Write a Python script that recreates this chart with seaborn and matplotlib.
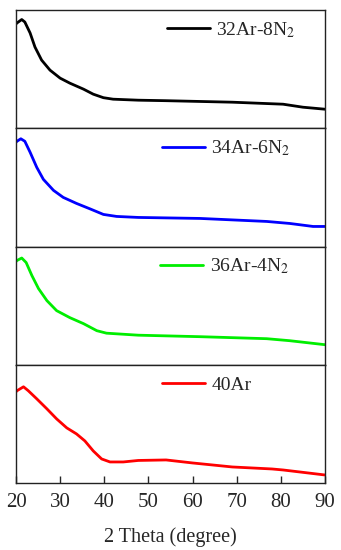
import matplotlib
matplotlib.use("Agg")
import matplotlib.pyplot as plt
import seaborn as sns
import pandas as pd

# XRD patterns (relative intensity, arbitrary units)
labels = ["32Ar-8N$_2$", "34Ar-6N$_2$", "36Ar-4N$_2$", "40Ar"]
colors = ["black", "blue", "#00ee00", "red"]
legend_x = [0.488, 0.472, 0.466, 0.472]

theta_32 = [20, 20.2, 21.3, 22.0, 23.2, 24.3, 25.8, 27.7, 30, 32.2, 35.3, 37.5,
            39.8, 42, 47.7, 54, 69, 80.5, 85, 90]
int_32 = [104, 105, 108.5, 106, 95, 81, 68, 58, 50, 45, 39, 34,
          30.5, 29, 28, 27.5, 26, 24, 21, 19]

theta_34 = [20, 20.2, 21.1, 22, 23.2, 24.7, 26.2, 28.5, 30.7, 33.7, 36.8, 39.8,
            42.8, 47.7, 61.7, 76.8, 82, 87.3, 90]
int_34 = [104, 105, 107.5, 105, 94, 79, 67, 56, 49, 43, 37.5, 32,
          30, 29, 28, 25, 23, 20, 20]

theta_36 = [20, 20.2, 21.3, 22.3, 23.6, 25.1, 27, 29.2, 32.2, 35.3, 38.3, 40.5,
            47.7, 61.7, 76.8, 82, 90]
int_36 = [103, 104, 106.5, 102, 89, 76, 64, 54, 47, 41, 34, 31.5,
          29.5, 28, 26, 24, 20]

theta_40 = [20, 20.2, 21.7, 22.8, 24.7, 27, 29.2, 31.5, 33.7, 35.6, 37.5, 39.4,
            41.3, 44.3, 47.7, 54, 60, 69, 78, 80.5, 90]
int_40 = [91, 92, 96, 92, 84, 74, 64, 55, 49, 42, 32, 24,
          21, 21, 22.5, 23, 20, 16, 14, 13, 8]

thetas = [theta_32, theta_34, theta_36, theta_40]
ints = [int_32, int_34, int_36, int_40]

sns.set_style("white")
plt.rcParams["font.family"] = ["Liberation Serif", "DejaVu Serif"]
plt.rcParams["mathtext.fontset"] = "stix"

fig, axes = plt.subplots(4, 1, figsize=(3.41, 5.5), dpi=100, sharex=True)
fig.subplots_adjust(left=16 / 341, right=325 / 341, top=1 - 10 / 550,
                    bottom=1 - 483 / 550, hspace=0)

for ax, lab, col, tx, iy, lx in zip(axes, labels, colors, thetas, ints, legend_x):
    df = pd.DataFrame({"theta": tx, "intensity": iy})
    sns.lineplot(data=df, x="theta", y="intensity", color=col, lw=2.0,
                 label=lab, ax=ax)
    ax.set_ylim(0, 118)
    ax.set_xlim(20, 90)
    ax.set_yticks([])
    ax.set_ylabel("")
    ax.set_xlabel("")
    for s in ax.spines.values():
        s.set_color("#222222")
        s.set_linewidth(1.0)
    ax.tick_params(axis="x", bottom=False, labelbottom=False)
    ax.legend(loc="center left", bbox_to_anchor=(lx, 0.83), frameon=False,
              fontsize=14, handlelength=2.2, handletextpad=0.35,
              borderpad=0, borderaxespad=0)

bottom = axes[-1]
bottom.set_xticks(range(20, 91, 10))
bottom.tick_params(axis="x", bottom=True, labelbottom=True, direction="in",
                   length=5, width=1, labelsize=15, pad=7)
bottom.set_xlabel("2 Theta (degree)", fontsize=14.5, labelpad=11)

fig.savefig("out.png", dpi=100)
